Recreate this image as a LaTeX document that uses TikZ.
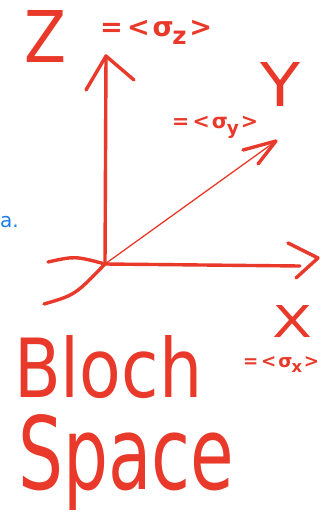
\documentclass[tikz,border=0pt]{standalone}
\usepackage{graphicx}
\usepackage{fontspec}
\setmainfont{DejaVu Sans}
\definecolor{ink}{HTML}{E8392A}
\definecolor{blueink}{HTML}{1A7FE8}
\newcommand\sigmalabel[1]{\bfseries=\kern0.15em<\kern0.1emσ\kern-0.05em\raisebox{-0.3em}{\small #1}\kern0.1em>}
\begin{document}
\begin{tikzpicture}[x=1pt,y=-1pt,line cap=round,line join=round,
  stroke/.style={draw=ink,line width=3.4pt},
  thinstroke/.style={draw=ink,line width=1.3pt},
  lbl/.style={text=ink,inner sep=0pt,anchor=north west}]
\useasboundingbox (0,0) rectangle (329,513);
% origin and axis ends
\coordinate (O) at (105,264);
\coordinate (ztip) at (106,56);
\coordinate (ytip) at (276,141);
\coordinate (xtip) at (300,266);
\coordinate (xneg) at (48,262);
\coordinate (yneg) at (44,304);
% axes
\draw[stroke] (O) -- (ztip);
\draw[stroke] (86,90) -- (ztip) -- (134,80);
\draw[thinstroke] (O) .. controls (180,210) .. (ytip);
\draw[stroke] (243,150) -- (ytip) -- (258,164);
\draw[stroke] (O) -- (xtip);
\draw[stroke] (288,243) -- (318,258) -- (296,278);
\draw[stroke] (xneg) .. controls (75,256) .. (O);
\draw[stroke] (yneg) .. controls (75,295) .. (O);
% labels
\node[lbl] (zl) at (24,10) {\resizebox{42pt}{52pt}{Z}};
\node[lbl] (zs) at (100,20) {\resizebox{112pt}{!}{\sigmalabel{z}}};
\node[lbl] (yl) at (260,62) {\resizebox{40pt}{44pt}{Y}};
\node[lbl] (ys) at (172,116) {\resizebox{86pt}{!}{\sigmalabel{y}}};
\node[lbl] (xl) at (272,305) {\resizebox{40pt}{32pt}{X}};
\node[lbl] (xs) at (243,356) {\resizebox{76pt}{!}{\sigmalabel{x}}};
\node[lbl] (bloch) at (14,335) {\resizebox{188pt}{62pt}{Bloch}};
\node[lbl] (space) at (18,414) {\resizebox*{216pt}{96pt}{Space}};
\node[text=blueink,inner sep=0pt,anchor=west] (frag) at (0,222) {\fontsize{20}{20}\selectfont a.};
\end{tikzpicture}
\end{document}
